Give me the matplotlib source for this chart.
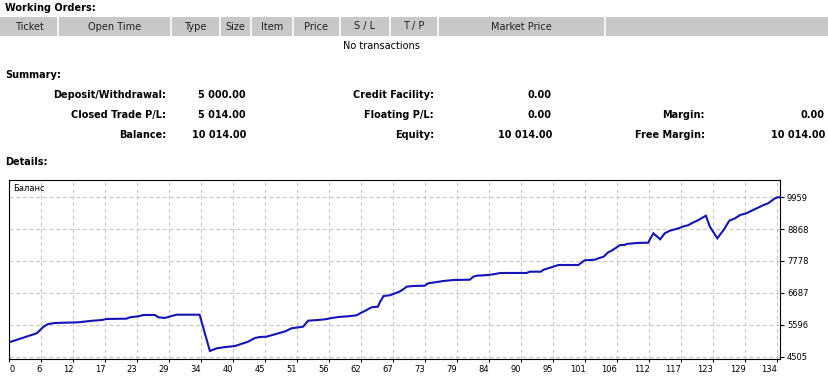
#!/usr/bin/env python3

import matplotlib
matplotlib.use('Agg')
import matplotlib.pyplot as plt
from matplotlib.patches import Rectangle

# balance curve (trade number, balance)
trade_no = [0, 4.8, 6.0, 6.8, 8.0, 12.1, 14.1, 16.2, 17.0, 20.5, 21.1, 22.6, 23.5, 25.5,
            26.1, 27.2, 28.4, 29.3, 33.3, 35.1, 36.3, 37.5, 39.5, 40.4, 41.8, 43.0, 43.9,
            45.0, 46.5, 48.3, 49.4, 51.4, 52.3, 54.0, 55.3, 56.4, 57.6, 59.3, 60.8, 61.4,
            62.3, 63.4, 64.5, 64.9, 65.5, 66.6, 67.5, 68.4, 69.2, 69.5, 70.7, 72.7, 73.3,
            74.5, 76.0, 77.7, 80.6, 81.2, 81.8, 83.8, 85.0, 85.9, 90.5, 91.1, 93.0, 93.5,
            94.3, 95.2, 96.1, 99.6, 100.2, 100.7, 102.5, 103.1, 104.0, 104.8, 105.4, 106.3,
            106.9, 107.7, 108.0, 109.8, 111.8, 112.7, 113.9, 114.7, 115.6, 117.1, 118.2,
            118.8, 119.4, 120.6, 121.9, 122.6, 123.9, 125.0, 126.0, 127.0, 127.9, 129.0,
            129.9, 130.8, 132.0, 132.8, 134.0, 134.4, 134.8]
balance = [5000, 5305, 5531, 5623, 5658, 5681, 5726, 5760, 5794, 5805, 5852, 5887, 5931, 5931,
           5852, 5829, 5897, 5941, 5941, 4700, 4792, 4826, 4871, 4929, 5018, 5145, 5179,
           5189, 5271, 5374, 5476, 5531, 5736, 5760, 5784, 5828, 5863, 5887, 5921, 5989,
           6078, 6194, 6215, 6386, 6581, 6605, 6673, 6742, 6844, 6899, 6923, 6933, 7015,
           7049, 7094, 7128, 7138, 7241, 7275, 7299, 7333, 7368, 7368, 7412, 7412, 7480,
           7528, 7583, 7641, 7641, 7733, 7802, 7822, 7870, 7925, 8075, 8130, 8246,
           8325, 8325, 8359, 8394, 8404, 8725, 8520, 8725, 8814, 8896, 8975,
           8999, 9067, 9180, 9327, 8951, 8554, 8838, 9156, 9238, 9351, 9409,
           9498, 9580, 9693, 9751, 9922, 9956, 9956]

x_tick_labels = ['0', '6', '12', '17', '23', '29', '34', '40', '45', '51', '56', '62', '67',
                 '73', '79', '84', '90', '95', '101', '106', '112', '117', '123', '129', '134']
y_ticks = [4505, 5596, 6687, 7778, 8868, 9959]

columns = ['Ticket', 'Open Time', 'Type', 'Size', 'Item', 'Price', 'S / L', 'T / P',
           'Market Price', '']
col_edges = [0, 58, 171, 220, 251, 293, 340, 390, 438, 605, 829]

summary = [
    [('Deposit/Withdrawal:', '5 000.00'), ('Credit Facility:', '0.00'), None],
    [('Closed Trade P/L:', '5 014.00'), ('Floating P/L:', '0.00'), ('Margin:', '0.00')],
    [('Balance:', '10 014.00'), ('Equity:', '10 014.00'), ('Free Margin:', '10 014.00')],
]


def main():
    plt.rcParams['font.family'] = ['DejaVu Sans']
    W, H = 829, 384
    fig = plt.figure(figsize=(W / 100, H / 100), dpi=100)
    fig.patch.set_facecolor('white')

    # page in pixel coordinates
    pg = fig.add_axes([0, 0, 1, 1])
    pg.set_xlim(0, W)
    pg.set_ylim(H, 0)
    pg.axis('off')

    pg.text(5, 8, 'Working Orders:', fontsize=7, fontweight='bold', va='center')
    pg.add_patch(Rectangle((0, 17), W, 19, facecolor='#c8c8c8', edgecolor='none'))
    for e in col_edges[1:-1]:
        pg.plot([e, e], [17, 36], color='white', lw=1.2)
    for i, name in enumerate(columns):
        cx = (col_edges[i] + col_edges[i + 1]) / 2
        pg.text(cx, 26.5, name, fontsize=7, ha='center', va='center', color='#202020')
    pg.text(381, 46, 'No transactions', fontsize=7, ha='center', va='center')

    pg.text(5, 75.5, 'Summary:', fontsize=7, fontweight='bold', va='center')
    label_x = [166, 434, 705]
    value_x = [246, 552, 825]
    for r, row in enumerate(summary):
        y = 95 + 20 * r
        for c, item in enumerate(row):
            if item is None:
                continue
            pg.text(label_x[c], y, item[0], fontsize=7, fontweight='bold', ha='right', va='center')
            pg.text(value_x[c], y, item[1], fontsize=7, fontweight='bold', ha='right', va='center')

    pg.text(5, 162, 'Details:', fontsize=7, fontweight='bold', va='center')

    # balance chart
    left, right, top, bottom = 9.3, 780, 180, 359
    ax = fig.add_axes([left / W, 1 - bottom / H, (right - left) / W, (bottom - top) / H])
    ax.plot(trade_no, balance, color='#1414b8', lw=1.5, solid_joinstyle='miter')
    ax.set_xlim(0, 134.87)
    ax.set_ylim(4426, 10548)
    step = 134.87 / 24.08
    ax.set_xticks([k * step for k in range(len(x_tick_labels))])
    ax.set_xticklabels(x_tick_labels)
    ax.set_yticks(y_ticks)
    ax.set_yticklabels([str(v) for v in y_ticks])
    ax.yaxis.tick_right()
    ax.grid(True, color='#c8c8c8', lw=0.8, linestyle=(0, (3.5, 2.5)))
    ax.set_axisbelow(True)
    ax.tick_params(axis='x', length=2, width=0.8, pad=2, labelsize=6)
    ax.tick_params(axis='y', length=3, width=0.8, pad=2, labelsize=6)
    for lab in ax.get_xticklabels():
        lab.set_horizontalalignment('right')
    ax.get_xticklabels()[0].set_horizontalalignment('left')
    for sp in ax.spines.values():
        sp.set_linewidth(0.8)
        sp.set_color('black')
    ax.text(0.005, 0.955, 'Баланс', transform=ax.transAxes, fontsize=6, va='center', ha='left')

    plt.savefig('out.png', dpi=100)


if __name__ == '__main__':
    main()
